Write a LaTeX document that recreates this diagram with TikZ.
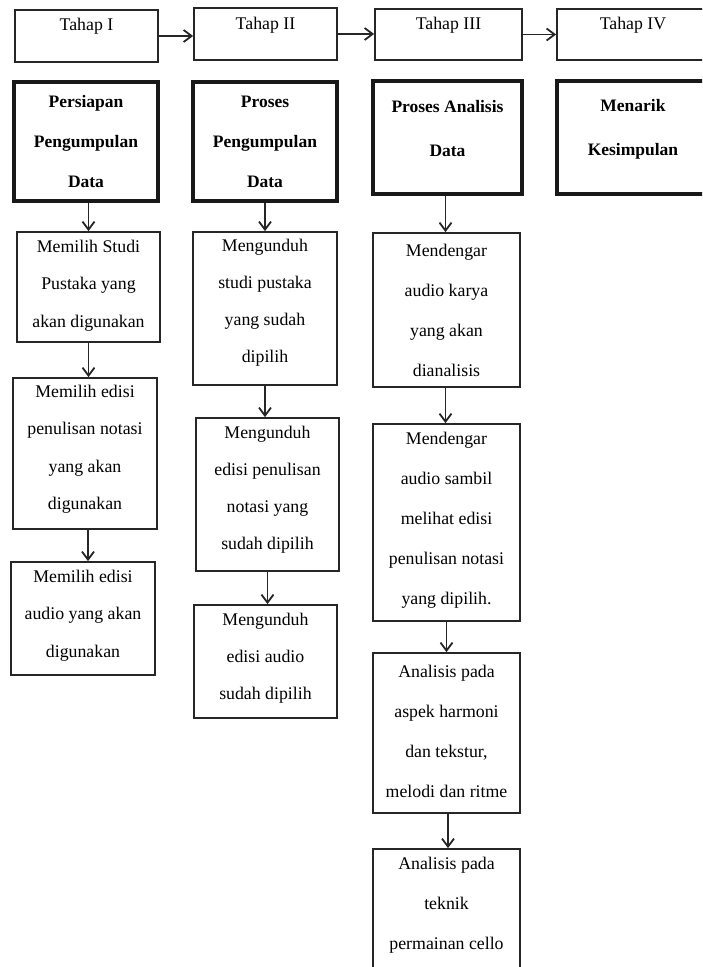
\documentclass[tikz,border=0pt]{standalone}
\usepackage{fontspec}
\setmainfont{Liberation Serif}
\usetikzlibrary{arrows.meta}
\tikzset{
  boxline/.style={draw=black!85, line width=1.8pt, inner sep=0pt},
  thickbox/.style={draw=black!90, line width=3.5pt, inner sep=0pt},
  txt/.style={align=center, inner sep=0pt, text=black},
  arr/.style={draw=black!85, line width=1.8pt, -{Straight Barb[length=8pt,width=12pt,line width=1.8pt]}},
}
\newcommand\fbx[9]{%
  \node[#6, minimum width={(#4-#2)*1pt}, minimum height={(#5-#3)*1pt}] (#1) at ({(#2+#4)/2},{(#3+#5)/2}) {};
  \node[txt, font={#8}] (#1t) at ({(#2+#4)/2},#7) {#9};
}
\newcommand\rg[1]{\fontsize{17.8}{#1}\selectfont}
\newcommand\bd[1]{\fontsize{17.5}{#1}\selectfont\bfseries}
\begin{document}
\begin{tikzpicture}[x=1pt,y=-1pt]
\path[use as bounding box] (0,0) rectangle (702,967);
\clip (0,0) rectangle (702,967);
% stage row
\fbx{t1}{15}{10}{158}{62}{boxline}{26.5}{\rg{37}}{Tahap I}
\fbx{t2}{194}{8}{337}{60}{boxline}{25}{\rg{37}}{Tahap II}
\fbx{t3}{375}{9}{522}{60}{boxline}{25}{\rg{37}}{Tahap III}
\fbx{t4}{557}{9}{709}{60}{boxline}{25}{\rg{37}}{Tahap IV}
% headings
\fbx{h1}{14}{82}{158}{201}{thickbox}{141.5}{\bd{40}}{Persiapan\\Pengumpulan\\Data}
\fbx{h2}{193}{82}{337}{201}{thickbox}{141.5}{\bd{40}}{Proses\\Pengumpulan\\Data}
\fbx{h3}{373}{81}{522}{194}{thickbox}{129}{\bd{44}}{Proses Analisis\\Data}
\fbx{h4}{557}{81}{709}{194}{thickbox}{129}{\bd{44}}{Menarik\\Kesimpulan}
% column 1
\fbx{a1}{17}{232}{160}{342}{boxline}{285.5}{\rg{37.5}}{Memilih Studi\\Pustaka yang\\akan digunakan}
\fbx{a2}{13}{378}{157}{529}{boxline}{449}{\rg{37.5}}{Memilih edisi\\penulisan notasi\\yang akan\\digunakan}
\fbx{a3}{11}{562}{155}{675}{boxline}{615.5}{\rg{37.5}}{Memilih edisi\\audio yang akan\\digunakan}
% column 2
\fbx{b1}{193}{232}{337}{385}{boxline}{303}{\rg{37}}{Mengunduh\\studi pustaka\\yang sudah\\dipilih}
\fbx{b2}{196}{418}{339}{571}{boxline}{490}{\rg{37}}{Mengunduh\\edisi penulisan\\notasi yang\\sudah dipilih}
\fbx{b3}{194}{605}{337}{718}{boxline}{658}{\rg{37}}{Mengunduh\\edisi audio\\sudah dipilih}
% column 3
\fbx{c1}{373}{233}{520}{387}{boxline}{310.5}{\rg{40}}{Mendengar\\audio karya\\yang akan\\dianalisis}
\fbx{c2}{373}{424}{520}{621}{boxline}{520}{\rg{40}}{Mendengar\\audio sambil\\melihat edisi\\penulisan notasi\\yang dipilih.}
\fbx{c3}{373}{653}{520}{813}{boxline}{731}{\rg{40}}{Analisis pada\\aspek harmoni\\dan tekstur,\\melodi dan ritme}
\fbx{c4}{373}{849}{520}{1000}{boxline}{905.5}{\rg{40}}{Analisis pada\\teknik\\permainan cello}
% connectors
\draw[arr] (t1.east) -- (t1.east -| t2.west);
\draw[arr] (t2.east) -- (t2.east -| t3.west);
\draw[arr] (t3.east) -- (t3.east -| t4.west);
\draw[arr] (a1.north |- h1.south) -- (a1.north);
\draw[arr] (a1.south) -- (a1.south |- a2.north);
\draw[arr] ([xshift=3pt]a2.south) -- ([xshift=3pt]a2.south |- a3.north);
\draw[arr] (h2.south) -- (h2.south |- b1.north);
\draw[arr] (b1.south) -- (b1.south |- b2.north);
\draw[arr] (b2.south) -- (b2.south |- b3.north);
\draw[arr] ([xshift=-2pt]h3.south) -- ([xshift=-2pt]h3.south |- c1.north);
\draw[arr] ([xshift=-1pt]c1.south) -- ([xshift=-1pt]c1.south |- c2.north);
\draw[arr] (c2.south) -- (c2.south |- c3.north);
\draw[arr] ([xshift=1.5pt]c3.south) -- ([xshift=1.5pt]c3.south |- c4.north);
\end{tikzpicture}
\end{document}
